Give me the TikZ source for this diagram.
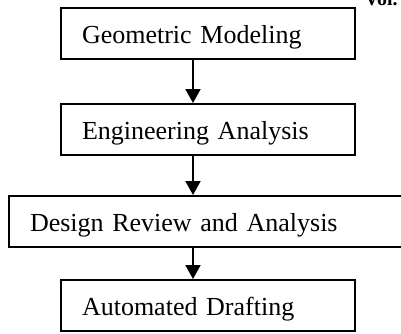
\documentclass[tikz,border=0pt]{standalone}
\usepackage{fontspec}
\setmainfont[WordSpace=0.85]{Liberation Serif}
\usetikzlibrary{arrows.meta}
\begin{document}
\begin{tikzpicture}[x=1pt,y=-1pt,
  box/.style={draw,line width=2pt,anchor=north west,minimum width=294pt,minimum height=51pt,
    inner xsep=21pt,inner ysep=0pt,text height=35.5pt,text depth=15.5pt,
    text width=252pt,align=left,font=\fontsize{26}{30}\selectfont},
  arr/.style={line width=2pt,-{Triangle[width=15pt,length=14pt]}}]
\clip (0,0) rectangle (401,333);
\node[anchor=base west,font=\bfseries\fontsize{20}{24}\selectfont] (vol) at (361,5) {Vol.};
\node[box] (g) at (60,7) {Geometric Modeling};
\node[box] (e) at (60,103) {Engineering Analysis};
\node[box,text width=400pt] (d) at (8,195) {Design Review and Analysis};
\node[box] (a) at (60,279) {Automated Drafting};
\coordinate (ax) at (193,0);
\draw[arr] (g.south -| ax) -- (e.north -| ax);
\draw[arr] (e.south -| ax) -- (d.north -| ax);
\draw[arr] (d.south -| ax) -- (a.north -| ax);
\end{tikzpicture}
\end{document}
